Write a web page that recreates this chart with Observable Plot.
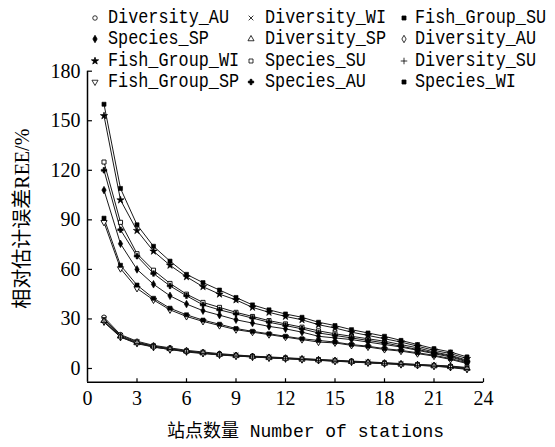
<!DOCTYPE html>
<html><head><meta charset="utf-8">
<script src="https://cdn.jsdelivr.net/npm/d3@7"></script>
<script src="https://cdn.jsdelivr.net/npm/@observablehq/plot@0.6"></script>
<style>
body{margin:0;background:#fff;}
#wrap{position:relative;width:555px;height:447px;overflow:hidden;}
#legend{position:absolute;left:0;top:0;width:555px;height:100px;pointer-events:none;}
.mk{position:absolute;}
.lb{position:absolute;font-family:"Liberation Mono",monospace;font-size:20px;line-height:22px;color:#000;white-space:nowrap;transform:scaleX(0.84);transform-origin:left center;}
</style></head><body>
<div id="wrap"><div id="chart"></div><div id="legend"></div></div>
<script>
// ---- data ----
const stations = [1,2,3,4,5,6,7,8,9,10,11,12,13,14,15,16,17,18,19,20,21,22,23];
const xTicks = [0,3,6,9,12,15,18,21,24];
const yTicks = [0,30,60,90,120,150,180];

const diversityAU   = [31,20.5,16.5,14,12.5,11,10,9,8.2,7.5,7,6.5,6,5.5,5,4.5,4,3.5,3,2.5,2,1.5,0.6];
const diversityWI   = [30,20,16,13.5,12,10.5,9.5,8.5,8,7.3,6.8,6.3,5.8,5.3,4.8,4.3,3.8,3.3,2.8,2.3,1.8,1.2,0.3];
const fishGroupSU   = [160,109,87,74,65,57,52,47.5,43,38.5,35.5,33,31,28,26,23.5,21.5,19.5,17,14.5,12,10,7];
const speciesSP     = [108,75.5,60,51,44,39,35,32.3,29.5,27.5,25.5,24,22,19.5,18.5,17.5,16,14.5,13,11,9,7,4];
const diversitySP   = [29,19.5,15.5,13.5,12,10.5,9.5,8.5,7.8,7.2,6.6,6.1,5.6,5.1,4.6,4.1,3.6,3.1,2.6,2.1,1.6,1,0];
const diversityAU2  = [28.5,19,15.5,13,11.5,10.3,9.3,8.3,7.6,7,6.5,6,5.5,5,4.5,4,3.5,3,2.5,2,1.5,0.8,-0.3];
const fishGroupWI   = [153,102,83.5,71,62.5,55.5,49.5,45,41.5,37,34,31.5,29.5,26.5,24.5,22,20,18,16,13.5,11,9,6];
const speciesSU     = [125,88.5,69.5,59.5,51.5,45,40,37,34,31.5,29,27,25,22.8,21,19.5,18,16.5,14.5,12.5,10,8,5];
const diversitySU   = [28,19,15,13,11.5,10,9,8.2,7.5,7,6.4,5.9,5.4,4.9,4.4,3.9,3.4,2.9,2.4,1.9,1.4,0.6,-0.6];
const fishGroupSP   = [88.5,60.5,48.5,41.5,35.5,31.5,28.5,26,23.5,22,20.5,19,17.5,16,15.5,14,13,11.5,10.5,9,7.5,5.5,3];
const speciesAU     = [120,84,68,57.5,50,44,38.5,35.5,33,30.5,28,26,24,21.5,20,18.5,17,15.5,13.5,11.5,9.5,7.5,4.5];
const speciesWI     = [91,62.5,50.5,42.5,36.5,32.5,29.3,26.8,24.2,22.5,21,19.5,18,17,16,14.5,13.5,12,11,9.5,8,6,3.5];

const seriesKeys   = ["DAU","DWI","FSU","SSP","DSP","DAU2","FWI","SSU","DSU","FSP","SAU","SWI"];
const seriesLabels = ["Diversity_AU","Diversity_WI","Fish_Group_SU","Species_SP","Diversity_SP","Diversity_AU","Fish_Group_WI","Species_SU","Diversity_SU","Fish_Group_SP","Species_AU","Species_WI"];
const seriesValues = [diversityAU,diversityWI,fishGroupSU,speciesSP,diversitySP,diversityAU2,fishGroupWI,speciesSU,diversitySU,fishGroupSP,speciesAU,speciesWI];

// ---- styling helpers ----
const sqrt3 = Math.sqrt(3);
const symbolTriangleDown = {draw(context, size){
  const y = -Math.sqrt(size / (sqrt3 * 3));
  context.moveTo(0, -y * 2);
  context.lineTo(-sqrt3 * y, y);
  context.lineTo(sqrt3 * y, y);
  context.closePath();
}};
const seriesSymbols = [d3.symbolCircle, d3.symbolTimes, d3.symbolSquare, d3.symbolDiamond, d3.symbolTriangle, d3.symbolDiamond,
  d3.symbolStar, d3.symbolSquare, d3.symbolPlus, symbolTriangleDown, d3.symbolCross, d3.symbolSquare];
const seriesFilled = [false, false, true, true, false, false, true, false, false, false, true, true];

const data = [];
seriesKeys.forEach((k, i) => stations.forEach((s, j) => data.push({key: k, filled: seriesFilled[i], x: s, y: seriesValues[i][j]})));

const yBottom = -8.3;

const chart = Plot.plot({
  width: 555, height: 447,
  marginLeft: 87, marginRight: 72, marginTop: 70.7, marginBottom: 65.3,
  x: {domain: [0, 24], axis: null},
  y: {domain: [yBottom, 180], axis: null},
  symbol: {domain: seriesKeys, range: seriesSymbols},
  style: {fontFamily: "Liberation Serif, serif", fontSize: "20px", color: "#000", background: "#fff"},
  marks: [
    Plot.ruleX([0], {y1: yBottom, y2: 180, stroke: "#000", strokeWidth: 1.5}),
    Plot.ruleY([yBottom], {x1: 0, x2: 24, stroke: "#000", strokeWidth: 1.5}),
    Plot.link(yTicks, {x1: 0, x2: 0.27, y1: d => d, y2: d => d, stroke: "#000", strokeWidth: 1.2}),
    Plot.link(xTicks.filter(d => d > 0), {x1: d => d, x2: d => d, y1: yBottom, y2: yBottom + 2.4, stroke: "#000", strokeWidth: 1.2}),
    Plot.axisY({ticks: yTicks, tickSize: 0, tickPadding: 7, label: null, fontSize: 20}),
    Plot.axisX({ticks: xTicks, tickSize: 0, tickPadding: 9, label: null, fontSize: 20}),
    Plot.line(data, {x: "x", y: "y", z: "key", stroke: "#1a1a1a", strokeWidth: 1}),
    Plot.dot(data.filter(d => !d.filled), {x: "x", y: "y", symbol: "key", r: 2.3, fill: "#fff", stroke: "#000", strokeWidth: 0.9}),
    Plot.dot(data.filter(d => d.filled), {x: "x", y: "y", symbol: "key", r: 2.3, fill: "#000", stroke: "#000", strokeWidth: 0.6}),
    Plot.text(["相对估计误差REE/%"], {frameAnchor: "left", textAnchor: "middle", rotate: -90, dx: -65, dy: -8, fontSize: 20, fontFamily: "Liberation Serif, 'Noto Sans CJK SC', serif"}),
    Plot.text(["站点数量 Number of stations"], {frameAnchor: "bottom", dx: 20, dy: 55, fontSize: 18, fontFamily: "'Liberation Mono', 'Noto Sans CJK SC', monospace"})
  ]
});
document.getElementById("chart").append(chart);

// ---- legend (HTML overlay) ----
const legend = document.getElementById("legend");
const rowY = [17.5, 39, 60.5, 82];
const colMarkX = [95, 251, 404];
const colTextX = [108, 265, 415];
seriesKeys.forEach((k, i) => {
  const r = Math.floor(i / 3), c = i % 3;
  const svg = d3.create("svg").attr("class", "mk").attr("width", 10).attr("height", 10)
    .style("left", (colMarkX[c] - 5) + "px").style("top", (rowY[r] - 5) + "px");
  svg.append("path").attr("transform", "translate(5,5)")
    .attr("d", d3.symbol(seriesSymbols[i], 16)())
    .attr("fill", seriesFilled[i] ? "#000" : "#fff").attr("stroke", "#000").attr("stroke-width", 0.8);
  legend.append(svg.node());
  const span = document.createElement("div");
  span.className = "lb";
  span.textContent = seriesLabels[i];
  span.style.left = colTextX[c] + "px";
  span.style.top = (rowY[r] - 11) + "px";
  legend.append(span);
});
</script>
</body></html>
